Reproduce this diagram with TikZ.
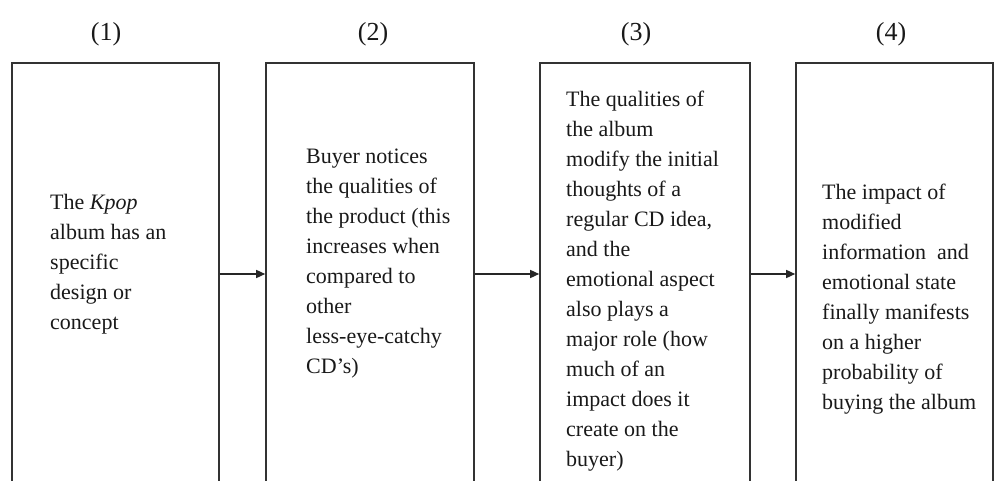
\documentclass[tikz,border=0pt]{standalone}
\usepackage{fontspec}
\setmainfont{Liberation Serif}
\usetikzlibrary{arrows.meta}
\begin{document}
\begin{tikzpicture}[x=1pt,y=-1pt,
  stagebox/.style={draw=black!80,line width=1.6pt,inner sep=0pt,anchor=center},
  txt/.style={anchor=north west,inner sep=0pt,align=left,
    font=\fontsize{22}{30}\selectfont,text=black!90},
  num/.style={inner sep=0pt,font=\fontsize{26}{30}\selectfont,text=black!90},
  flow/.style={draw=black!85,line width=1.4pt,-{Triangle[length=9pt,width=8pt]}}]
\useasboundingbox (0,0) rectangle (994,481);
\clip (0,0) rectangle (994,481);
% boxes (bottoms run beyond the picture)
\node[stagebox,minimum width=207pt,minimum height=422pt] (b1) at (115.5,274) {};
\node[stagebox,minimum width=208pt,minimum height=422pt] (b2) at (370,274) {};
\node[stagebox,minimum width=210pt,minimum height=422pt] (b3) at (645,274) {};
\node[stagebox,minimum width=197pt,minimum height=422pt] (b4) at (894.5,274) {};
% headings
\node[num] (n1) at (106,34) {(1)};
\node[num] (n2) at (373,34) {(2)};
\node[num] (n3) at (636,34) {(3)};
\node[num] (n4) at (891,34) {(4)};
% texts
\node[txt] (t1) at (50,194) {The \textit{Kpop}\\album has an\\specific\\design or\\concept};
\node[txt] (t2) at (306,149) {Buyer notices\\the qualities of\\the product (this\\increases when\\compared to\\other\\less-eye-catchy\\CD’s)};
\node[txt] (t3) at (566,91) {The qualities of\\the album\\modify the initial\\thoughts of a\\regular CD idea,\\and the\\emotional aspect\\also plays a\\major role (how\\much of an\\impact does it\\create on the\\buyer)};
\node[txt] (t4) at (822,184) {The impact of\\modified\\information\ \ and\\emotional state\\finally manifests\\on a higher\\probability of\\buying the album};
% arrows
\draw[flow] (b1.east) -- (b2.west);
\draw[flow] (b2.east) -- (b3.west);
\draw[flow] (b3.east) -- (b4.west);
\end{tikzpicture}
\end{document}
